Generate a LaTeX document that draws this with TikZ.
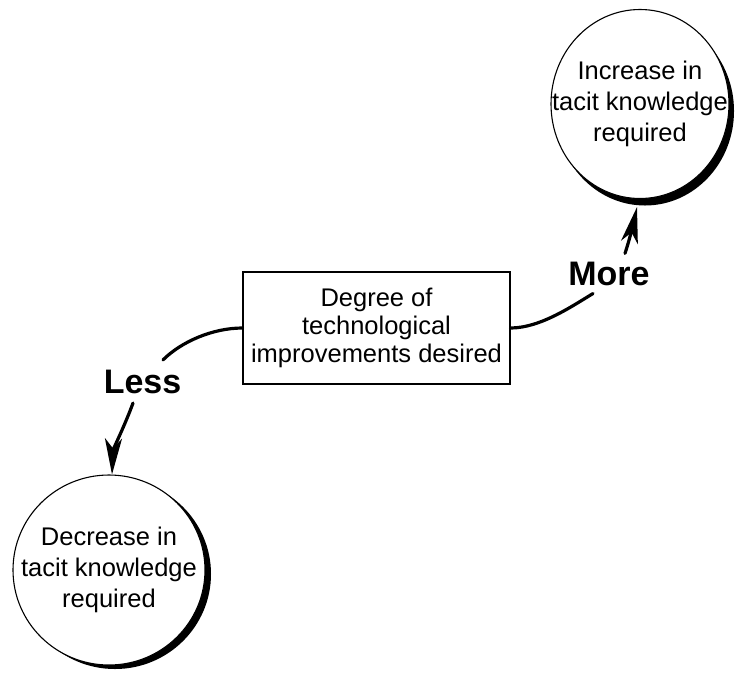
\documentclass[tikz,border=0pt]{standalone}
\usepackage{fontspec}
\setmainfont{Liberation Sans}
\usetikzlibrary{arrows.meta,shapes.geometric,shadows}
\begin{document}
\begin{tikzpicture}[x=1pt,y=-1pt,
  body/.style={font=\fontsize{25.5}{31}\selectfont, align=center},
  outcome/.style={body, ellipse, draw=black, line width=1.1pt, fill=white,
    inner xsep=-40pt, inner ysep=0pt},
  decision/.style={draw=black, line width=1.1pt, fill=white, align=center,
    minimum width=267pt, minimum height=112pt, inner sep=0pt,
    font=\fontsize{25.5}{28}\selectfont},
  tag/.style={font=\bfseries\fontsize{34}{36}\selectfont, inner xsep=2pt, anchor=base},
  link/.style={line width=3.2pt, line cap=round},
  tip/.style={-{Stealth[length=36pt,width=17pt,inset=10pt]}}
]
% canvas
\fill[white] (0,0) rectangle (735,673);
\useasboundingbox (0,0) rectangle (735,673);

% central decision box
\node[decision] (box) at (376.5,328) {Degree of\\technological\\improvements desired};

% the two outcomes, each with a solid black drop shadow
\node[outcome, minimum width=178pt, minimum height=189pt,
  drop shadow={shadow xshift=5pt, shadow yshift=-7pt, fill=black, opacity=1}]
  (high) at (640,104) {Increase in\\tacit knowledge\\required};
\node[outcome, minimum width=192pt, minimum height=190pt,
  drop shadow={shadow xshift=6pt, shadow yshift=-4pt, fill=black, opacity=1}]
  (low) at (109,570) {Decrease in\\tacit knowledge\\required};

% branch labels
\node[tag, inner ysep=9.5pt] (less) at (142.5,393) {Less};
\node[tag, inner ysep=8pt] (more) at (609,285) {More};

% lower branch
\draw[link] (box.west) .. controls +(-30,0) and +(18,-18) .. ([xshift=20.5pt]less.north);
\draw[link,tip] ([xshift=-9.5pt]less.south) .. controls +(-8,22) and +(1,-25) .. ([xshift=3pt]low.north);

% upper branch
\draw[link] (box.east) .. controls +(30,0) and +(-20,12) .. ([xshift=-16pt]more.south);
\draw[link,tip] ([xshift=16pt]more.north) .. controls +(4,-12) and +(-3,14) .. ([xshift=-3pt,yshift=-8pt]high.south);
\end{tikzpicture}
\end{document}
